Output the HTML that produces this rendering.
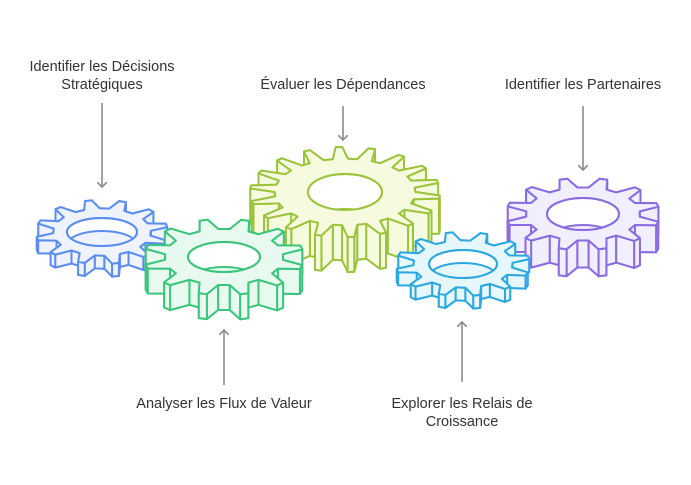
<!DOCTYPE html>
<html><head><meta charset="utf-8"><style>
body{margin:0;background:#fff;width:691px;height:485px;overflow:hidden}
svg{display:block}
text{font-family:"Liberation Sans",sans-serif;font-size:14.5px;fill:#333}
</style></head><body>
<svg id="s" width="691" height="485" viewBox="0 0 691 485" xmlns="http://www.w3.org/2000/svg">
<defs><marker id="ah" markerWidth="10" markerHeight="10" refX="5" refY="5" orient="auto" markerUnits="userSpaceOnUse"><path d="M0,0 L5,5 L0,10" fill="none" stroke="#8a8a8a" stroke-width="1.6"/></marker></defs>
<g id="g"></g>
<g stroke="#8a8a8a" stroke-width="1.6" fill="none">
<line x1="102" y1="103" x2="102" y2="187" marker-end="url(#ah)"/>
<line x1="343" y1="106" x2="343" y2="140" marker-end="url(#ah)"/>
<line x1="583" y1="106" x2="583" y2="170" marker-end="url(#ah)"/>
<line x1="224" y1="385" x2="224" y2="330" marker-end="url(#ah)"/>
<line x1="462" y1="382" x2="462" y2="322" marker-end="url(#ah)"/>
</g>
<text x="102" y="71" text-anchor="middle">Identifier les Décisions</text>
<text x="102" y="89" text-anchor="middle">Stratégiques</text>
<text x="343" y="89" text-anchor="middle">Évaluer les Dépendances</text>
<text x="583" y="89" text-anchor="middle">Identifier les Partenaires</text>
<text x="224" y="408" text-anchor="middle">Analyser les Flux de Valeur</text>
<text x="462" y="408" text-anchor="middle">Explorer les Relais de</text>
<text x="462" y="426" text-anchor="middle">Croissance</text>
</svg>
<script>
var NS="http://www.w3.org/2000/svg",G=document.getElementById("g"),defs=document.querySelector("defs"),cid=0;
function el(t,a,p){var e=document.createElementNS(NS,t);for(var k in a)e.setAttribute(k,a[k]);(p||G).appendChild(e);return e;}
function gear(cx,cy,R,Ry,n,d,hx,hy,st,fi,rot){
 var k=Ry/R,rr=R*0.74,pts=[],s=2*Math.PI/n;
 for(var i=0;i<n;i++){var t=i*s+(rot||0);
  [[0,rr],[0.22,R],[0.42,R],[0.62,rr]].forEach(function(q){var a=t+q[0]*s;pts.push([cx+q[1]*Math.cos(a),cy+q[1]*k*Math.sin(a)]);});}
 var g=el("g",{stroke:st,"stroke-width":2,fill:fi,"stroke-linejoin":"round"});
 var P=function(a,dy){return a.map(function(p){return p[0].toFixed(1)+","+(p[1]+dy).toFixed(1)}).join(" ");};
 el("polygon",{points:P(pts,d)},g);
 var q=[];for(var i=0;i<pts.length;i++){var a=pts[i],b=pts[(i+1)%pts.length];q.push([a,b,(a[1]+b[1])/2]);}
 q.sort(function(x,y){return x[2]-y[2]});
 q.forEach(function(e){el("polygon",{points:P([e[0],e[1]],0)+" "+P([e[1],e[0]],d)},g);});
 el("polygon",{points:P(pts,0)},g);
 var id="c"+(cid++);var cp=el("clipPath",{id:id},defs);el("ellipse",{cx:cx,cy:cy,rx:hx,ry:hy},cp);
 el("ellipse",{cx:cx,cy:cy,rx:hx,ry:hy,fill:"#fff"},g);
 el("ellipse",{cx:cx,cy:cy+d,rx:hx,ry:hy,fill:fi,"clip-path":"url(#"+id+")"},g);
 el("ellipse",{cx:cx,cy:cy,rx:hx,ry:hy,fill:"none"},g);
}
gear(583,214,77,36,12,27,36,16,"#8a6be0","#f1eefd",0.1);
gear(345,192,95,45,18,35,37,18,"#9bc43c","#f6fbdf",0);
gear(102,232,66,32,12,13,35,14,"#5b8def","#eef3fe",0.15);
gear(224,257,80,38,12,25,36,15,"#3cc47c","#e8faf0",0.1);
gear(463,264,67,32,12,13,34,14,"#2ba8dd","#e6f7fd",0.15);
</script>
</body></html>
